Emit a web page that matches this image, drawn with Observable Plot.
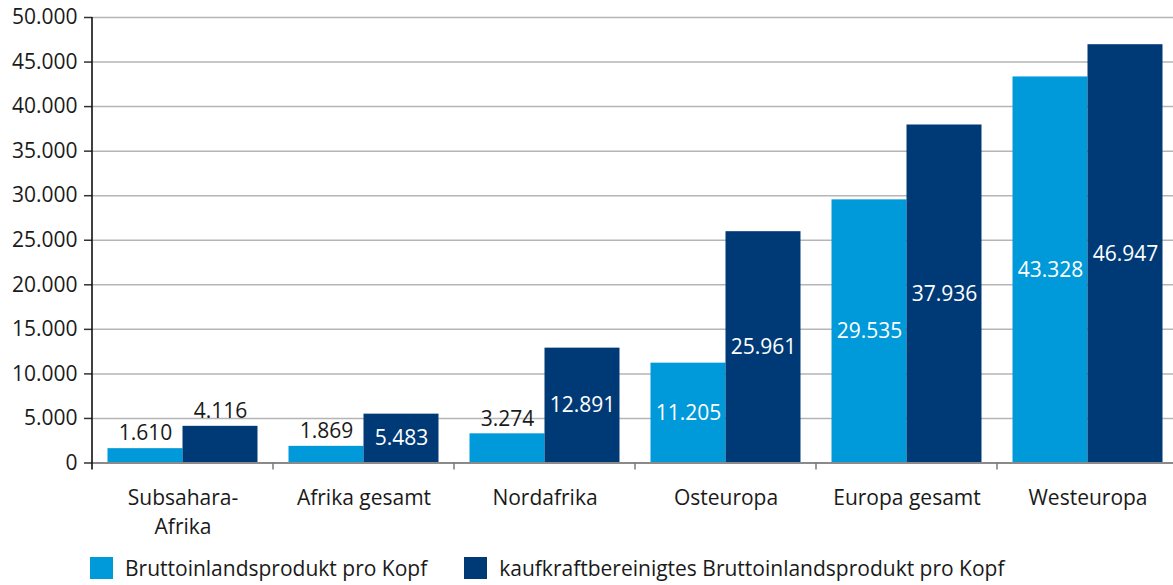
<!DOCTYPE html>
<html><head><meta charset="utf-8">
<script src="https://cdn.jsdelivr.net/npm/d3@7"></script>
<script src="https://cdn.jsdelivr.net/npm/@observablehq/plot@0.6"></script>
<style>
html,body{margin:0;padding:0;background:#fff;overflow:hidden;}
body{font-family:"Open Sans",sans-serif;width:1173px;height:585px;position:relative;}
#legend{position:absolute;top:557px;left:90px;display:flex;align-items:center;height:22px;font-size:21px;color:#1a1a1a;line-height:22px;white-space:nowrap;}
.sw{width:23px;height:22px;margin-right:12px;flex:none;}
.item{display:flex;align-items:center;margin-right:37px;}
</style></head><body><div id="chart"></div><div id="legend"></div>
<script>
const categories = ["Subsahara-\nAfrika","Afrika gesamt","Nordafrika","Osteuropa","Europa gesamt","Westeuropa"];
const seriesNames = ["Bruttoinlandsprodukt pro Kopf","kaufkraftbereinigtes Bruttoinlandsprodukt pro Kopf"];
const bipValues = [1610,1869,3274,11205,29535,43328];
const kkValues = [4116,5483,12891,25961,37936,46947];
const yTicks = [0,5000,10000,15000,20000,25000,30000,35000,40000,45000,50000];
const colors = ["#0099d9","#003a76"];

const fmt = d3.formatLocale({decimal:",", thousands:".", grouping:[3], currency:["","€"]}).format(",");

const data = categories.flatMap((c,i)=>[
  {cat:c, series:seriesNames[0], value:bipValues[i]},
  {cat:c, series:seriesNames[1], value:kkValues[i]}
]);

const plot = Plot.plot({
  width:1173, height:540,
  marginTop:17, marginBottom:77.5, marginLeft:90.5, marginRight:-6.5,
  style:{fontFamily:"Open Sans", fontSize:"21px", color:"#1a1a1a", background:"#fff"},
  fx:{domain:categories, padding:0, label:null},
  x:{domain:seriesNames, paddingInner:0, paddingOuter:0.198, axis:null},
  y:{domain:[0,50000], label:null},
  color:{domain:seriesNames, range:colors},
  marks:[
    Plot.gridY(yTicks,{stroke:"#b5b5b5", strokeOpacity:1, strokeWidth:1.5}),
    Plot.barY(data,{fx:"cat", x:"series", y:"value", fill:"series"}),
    Plot.ruleY([0],{stroke:"#8a8a8a", strokeWidth:2}),
    Plot.text(data.filter(d=>d.value<5000),{fx:"cat", x:"series", y:"value", text:d=>fmt(d.value), dy:-15, fill:"#1a1a1a", fontSize:21}),
    Plot.text(data.filter(d=>d.value>=5000),{fx:"cat", x:"series", y:d=>d.value/2, text:d=>fmt(d.value), fill:"#ffffff", fontSize:21}),
    Plot.axisY(yTicks,{anchor:"left", tickSize:8, tickPadding:7, tickFormat:fmt, label:null, stroke:"#333", strokeWidth:1.5}),
    Plot.axisFx({anchor:"bottom", tickSize:0, tickPadding:21, lineHeight:1.38, label:null})
  ]
});
document.getElementById("chart").appendChild(plot);

// axis line and category separator ticks, placed through Plot's scales
const fx = plot.scale("fx"), y = plot.scale("y");
const svg = d3.select(plot);
const y0 = y.apply(0), yTop = y.apply(50000);
const starts = categories.map(c=>fx.apply(c));
svg.append("g").selectAll("line").data(starts.slice(1)).join("line")
  .attr("x1",d=>d).attr("x2",d=>d).attr("y1",y0).attr("y2",y0+7)
  .attr("stroke","#7a7a7a").attr("stroke-width",1.5);
svg.append("line").attr("x1",starts[0]).attr("x2",starts[0]).attr("y1",yTop).attr("y2",y0+7)
  .attr("stroke","#111").attr("stroke-width",1.6);

const legend = d3.select("#legend");
seriesNames.forEach((s,i)=>{
  const it = legend.append("div").attr("class","item");
  it.append("div").attr("class","sw").style("background",colors[i]);
  it.append("span").text(s);
});
</script></body></html>
